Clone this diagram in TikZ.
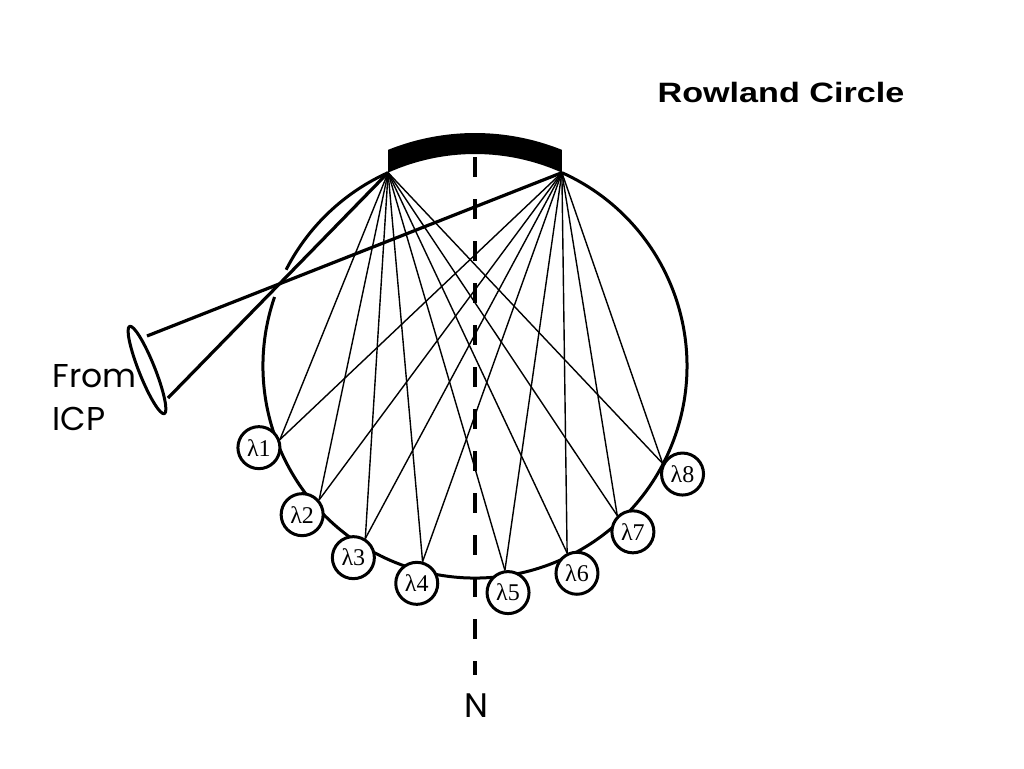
\documentclass[tikz,border=0pt]{standalone}
\usepackage{fontspec}
\usepackage{tikz}
\usetikzlibrary{arrows,shapes.geometric}
\newfontfamily\lamfont{Liberation Serif}
\newfontfamily\headfont{Liberation Sans}
\newfontfamily\labfont{Poppins}

\begin{document}
\begin{tikzpicture}[x=0.5pt,y=0.5pt,line join=round,semithick]
  \tikzstyle{det}=[circle,draw,fill=white,line width=1.5pt,minimum size=21pt,
                   inner sep=0pt,font=\lamfont\fontsize{12pt}{12pt}\selectfont]
  \tikzstyle{ray}=[line width=0.7pt]
  \tikzstyle{beam}=[line width=1.6pt]
  \tikzstyle{rim}=[line width=1.5pt]

  \fill[white] (-475,-402) rectangle (549,366);
  \useasboundingbox (-475,-402) rectangle (549,366);

  % Rowland circle, open at the slit
  \coordinate (g1) at (114.2:212);
  \coordinate (g2) at (65.8:212);
  \draw[rim] (114.2:212) arc[start angle=114.2,end angle=153,radius=212];
  \draw[rim] (161:212) arc[start angle=161,end angle=425.8,radius=212];

  % grating
  \fill (g1) arc[start angle=114.2,end angle=65.8,radius=212] -- (68.1:233)
        arc[start angle=68.1,end angle=111.9,radius=233] -- cycle;

  % normal
  \coordinate (ntop) at (0,209);
  \coordinate (nbot) at (0,-309);
  \draw[line width=2pt,dash pattern=on 10pt off 11pt] (ntop) -- (nbot);

  \node[det] (l1) at (200.7:231) {λ1};
  \node[det] (l2) at (220.7:228) {λ2};
  \node[det] (l3) at (237.6:227) {λ3};
  \node[det] (l4) at (255:225)   {λ4};
  \node[det] (l5) at (278.3:229) {λ5};
  \node[det] (l6) at (296.2:231) {λ6};
  \node[det] (l7) at (313.6:229) {λ7};
  \node[det] (l8) at (332.5:234) {λ8};

  \path[ray] (g1) edge (l1.21)  (g1) edge (l2.41)
             (g1) edge (l3.58)  (g1) edge (l4.75)
             (g1) edge (l5.98)  (g1) edge (l6.116)
             (g1) edge (l7.134) (g1) edge (l8.152);
  \path[ray] (g2) edge (l1.21)  (g2) edge (l2.41)
             (g2) edge (l3.58)  (g2) edge (l4.75)
             (g2) edge (l5.98)  (g2) edge (l6.116)
             (g2) edge (l7.134) (g2) edge (l8.152);

  % source optics
  \node[draw,ellipse,line width=1.5pt,minimum width=47pt,minimum height=8pt,
        inner sep=0pt,rotate=-68.3] (lens) at (-328,-4) {};
  \coordinate (lensA) at (-328,30);
  \coordinate (lensB) at (-307,-32);
  \draw[beam] (lensA) -- (g2);
  \draw[beam] (lensB) -- (g1);

  \node[anchor=base west,inner sep=0pt,
        font=\headfont\bfseries\fontsize{14pt}{16pt}\selectfont] (title)
        at (182,264) {\scalebox{1.22}[1]{Rowland Circle}};
  \node[anchor=base west,align=left,inner sep=0pt,
        font=\labfont\fontsize{16.5pt}{21.5pt}\selectfont] (icp)
        at (-423,-64) {From\\ICP};
  \node[anchor=base,inner sep=0pt,
        font=\labfont\fontsize{17pt}{20pt}\selectfont] (N) at (1,-351) {N};

\end{tikzpicture}
\end{document}
